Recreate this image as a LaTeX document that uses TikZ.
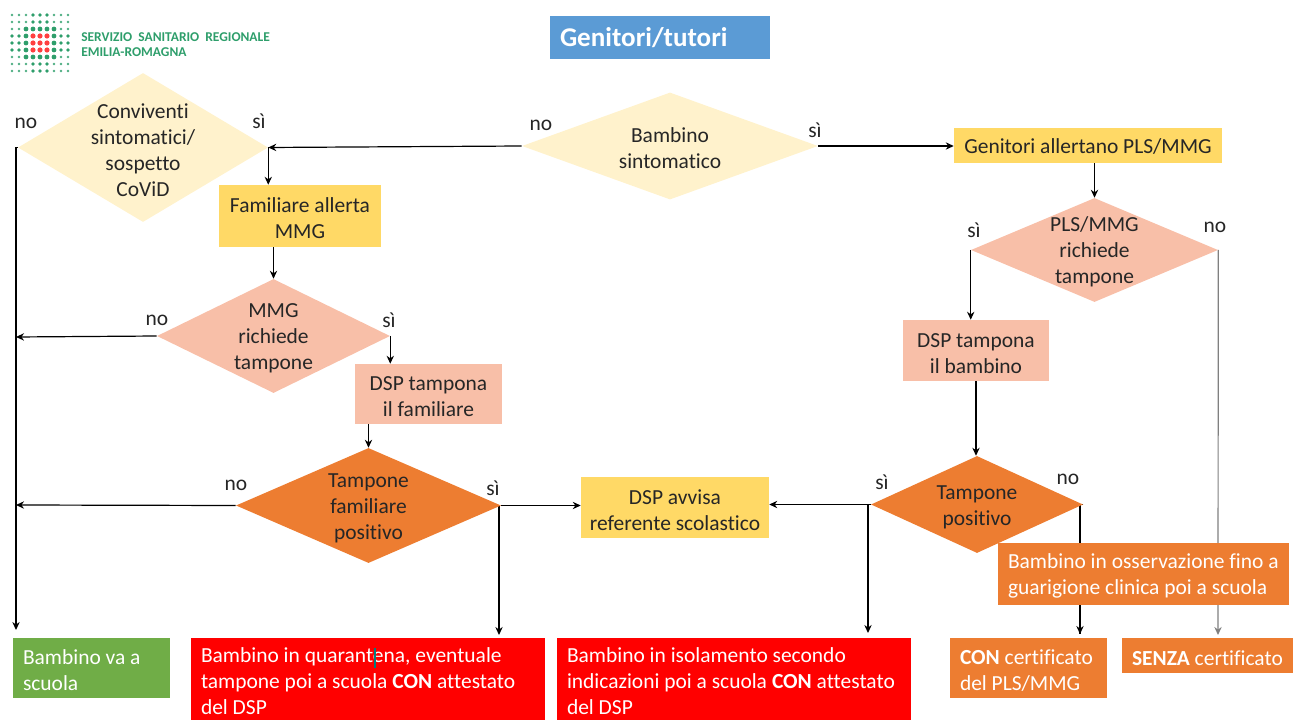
\documentclass[tikz,border=0pt]{standalone}
\usepackage{fontspec}
\setmainfont{Carlito}[Ligatures=NoCommon]
\usetikzlibrary{shapes.geometric}
\usetikzlibrary{arrows.meta}
\pgfdeclarelayer{background}
\pgfsetlayers{background,main}
\definecolor{ink}{HTML}{262626}
\definecolor{title}{HTML}{5B9BD5}
\definecolor{cream}{HTML}{FFF2CC}
\definecolor{peach}{HTML}{F8BFA8}
\definecolor{gold}{HTML}{FFD966}
\definecolor{tang}{HTML}{ED7D31}
\definecolor{leaf}{HTML}{70AD47}
\definecolor{logo}{HTML}{2E9E6B}
\tikzset{txt/.style={font=\fontsize{16.1}{19.5}\selectfont,text=ink}}
\tikzset{low/.style={execute at begin node={\rule{0pt}{#1}}}}
\tikzset{dec/.style n args={3}{txt,low=14.5pt,diamond,aspect=1.7,inner sep=-14pt,align=flush center,
    text width=97.5pt,minimum width=#1*.75pt,minimum height=#2*.75pt,fill=#3}}
\tikzset{cbox/.style n args={3}{txt,rectangle,inner sep=0pt,align=flush center,
    text width=(#1-10)*.75pt,minimum width=#1*.75pt,minimum height=#2*.75pt,fill=#3}}
\tikzset{lbox/.style n args={3}{txt,low=14.5pt,rectangle,inner xsep=7.5pt,inner ysep=0pt,align=flush left,text=white,
    text width=(#1-20)*.75pt,minimum height=#2*.75pt,fill=#3}}
\tikzset{yn/.style={txt,low=10pt,inner sep=0pt}}
\tikzset{link/.style={draw=black,line width=.9pt,-{Stealth[length=6pt,width=5.5pt]}}}
\tikzset{bare/.style={draw=black,line width=.9pt}}
\begin{document}
\begin{tikzpicture}[x=.75pt,y=-.75pt]
  \useasboundingbox (0,0) rectangle (1293,720);
  % logo
  \foreach \i in {-4,...,4}
    \foreach \j in {-4,...,4} {
      \pgfmathtruncatemacro{\ring}{max(abs(\i),abs(\j))}
      \pgfmathtruncatemacro{\arm}{min(abs(\i),abs(\j))}
      \ifnum\ring<2
        \fill[red!75!white] (40+\i*7,43+\j*7) circle (2.6);
      \else
        \ifnum\ring=2
          \fill[logo] (40+\i*7,43+\j*7) circle (2.4);
        \else
          \ifnum\arm<2
            \fill[logo] (40+\i*7,43+\j*7) circle (1.9);
          \else
            \fill[logo!85!white] (40+\i*7,43+\j*7) circle (1.4);
          \fi
        \fi
      \fi
    }
  \node[font=\fontsize{10.1}{11.2}\selectfont\bfseries,text=logo,align=flush left,inner sep=0pt,anchor=west]
    at (81,45) (ente) {SERVIZIO\ \ SANITARIO\ \ REGIONALE\\EMILIA-ROMAGNA};

  \node[lbox={220}{43}{title},font=\fontsize{20.3}{24}\selectfont\bfseries] at (660,37.5) (genitori) {Genitori/tutori};

  % decisions
  \node[dec={250}{149}{cream}] at (143,147.5) (conv) {Conviventi\\sintomatici/\\sospetto\\CoViD};
  \node[dec={296}{107}{cream}] at (670,146) (bamb) {Bambino\\sintomatico};
  \node[dec={247}{104}{peach}] at (1094.5,250) (plsreq) {PLS/MMG\\richiede\\tampone};
  \node[dec={233}{114}{peach}] at (273.5,336) (mmgreq) {MMG\\richiede\\tampone};
  \node[dec={265}{115}{tang}] at (368.5,505.5) (tampfam) {Tampone\\familiare\\positivo};
  \node[dec={212}{97}{tang}] at (977,504.5) (tampbam) {Tampone\\positivo};

  % boxes
  \node[cbox={268}{35}{gold},low=13.2pt] at (1088,145.5) (allerta) {Genitori allertano PLS/MMG};
  \node[cbox={162}{62}{gold},low=14.5pt] at (300,216) (famall) {Familiare allerta\\MMG};
  \node[cbox={147}{60}{peach},low=14.5pt] at (428.5,394) (dspfam) {DSP tampona\\il familiare};
  \node[cbox={146}{61}{peach},low=14.5pt] at (976,350.5) (dspbam) {DSP tampona\\il bambino};
  \node[cbox={188}{61}{gold},low=14.5pt] at (675,507.5) (avvisa) {DSP avvisa\\referente scolastico};
  \node[lbox={291}{62}{tang}] at (1143.5,574) (osserv) {Bambino in osservazione fino a\\guarigione clinica poi a scuola};
  \node[lbox={157}{60}{leaf}] at (91.5,668) (scuola) {Bambino va a\\scuola};
  \node[lbox={354}{82}{red}] at (368,679) (quar) {Bambino in quarantena, eventuale\\tampone poi a scuola \textbf{CON} attestato\\del DSP};
  \node[lbox={354}{82}{red}] at (734,679) (isol) {Bambino in isolamento secondo\\indicazioni poi a scuola \textbf{CON} attestato\\del DSP};
  \node[lbox={157}{60}{tang}] at (1028.5,668) (con) {\textbf{CON} certificato\\del PLS/MMG};
  \node[lbox={171}{35}{tang}] at (1207.5,655.5) (senza) {\textbf{SENZA} certificato};
  % caret left in the text
  \draw[teal,line width=.8pt] (375,648) -- (375,668);

  % free ends
  \coordinate (scuolatop) at (16,630);
  \coordinate (nomid) at (16,337);
  \coordinate (nolow) at (16,505);
  \coordinate (quartop) at (499,635);
  \coordinate (isoltop) at (868,633);
  \coordinate (contop) at (1080,634);
  \coordinate (senzatop) at (1218,635);

  \begin{pgfonlayer}{background}
    \draw[link] (bamb.west) -- (conv.east);
    \draw[link] (conv.east) -- (conv.east |- famall.north);
    \draw[link] (conv.west) -| (scuolatop);
    \draw[link] (famall.south -| mmgreq.north) -- (mmgreq.north);
    \draw[link] (mmgreq.west) -- (nomid);
    \draw[link] (mmgreq.east) -- (mmgreq.east |- dspfam.north);
    \draw[link] (dspfam.south -| tampfam.north) -- (tampfam.north);
    \draw[link] (tampfam.west) -- (nolow);
    \draw[link] (tampfam.east) -- (tampfam.east -| avvisa.west);
    \draw[link] (tampfam.east -| quartop) -- (quartop);
    \draw[link] (bamb.east) -- (bamb.east -| allerta.west);
    \draw[link] (allerta.south -| plsreq.north) -- (plsreq.north);
    \draw[link] (plsreq.west) -- (plsreq.west |- dspbam.north);
    \draw[link,draw=gray] (plsreq.east) -- (senzatop);
    \draw[link] (dspbam.south) -- (dspbam.south |- tampbam.north);
    \draw[link] (tampbam.west) -- (tampbam.west -| avvisa.east);
    \draw[link] (tampbam.west -| isoltop) -- (isoltop);
    \draw[bare] (tampbam.east) -| (contop);
    \draw[link] (osserv.south -| contop) -- (contop);
  \end{pgfonlayer}

  % answers
  \node[yn] at (26,122) (noa) {no};
  \node[yn] at (259,121) (sia) {sì};
  \node[yn] at (541,124) (nob) {no};
  \node[yn] at (815,130) (sib) {sì};
  \node[yn] at (974,230) (sic) {sì};
  \node[yn] at (1215,226) (noc) {no};
  \node[yn] at (157,319) (nod) {no};
  \node[yn] at (389,320) (sid) {sì};
  \node[yn] at (236,484) (noe) {no};
  \node[yn] at (493,488) (sie) {sì};
  \node[yn] at (882,482) (sif) {sì};
  \node[yn] at (1068,478) (nof) {no};
\end{tikzpicture}
\end{document}
